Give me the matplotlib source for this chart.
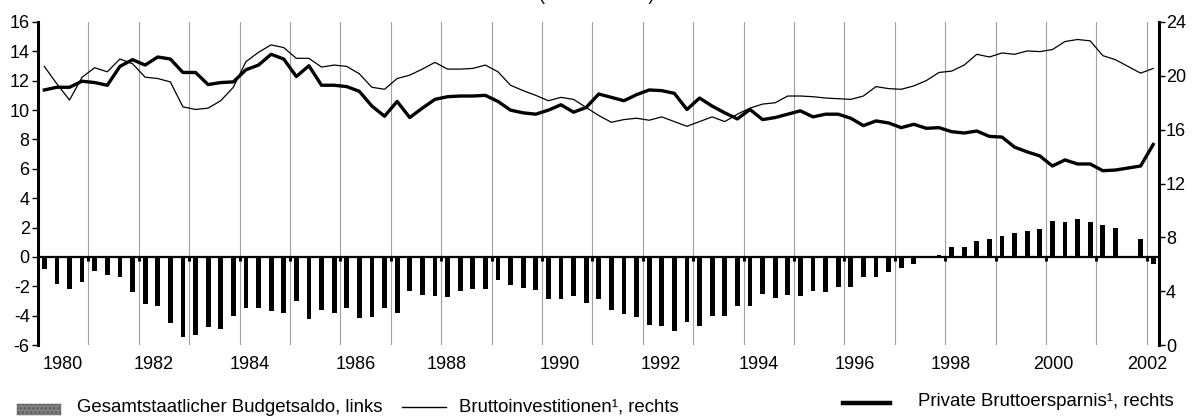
import numpy as np
import matplotlib
matplotlib.use("Agg")
import matplotlib.pyplot as plt
from matplotlib.patches import Rectangle
from matplotlib.lines import Line2D

plt.rcParams['font.family'] = ['Liberation Sans', 'DejaVu Sans']
plt.rcParams['axes.unicode_minus'] = False

# ---------------- data (quarterly, 1980Q1 .. 2002Q1) ----------------
start_year = 1980
budget = [-0.8, -1.85, -2.2, -1.7, -0.95, -1.2, -1.4, -2.4, -3.2, -3.35,
          -4.5, -5.45, -5.35, -4.8, -4.9, -4.05, -3.5, -3.5, -3.7, -3.85,
          -3.0, -4.2, -3.65, -3.8, -3.5, -4.15, -4.1, -3.5, -3.8, -2.3,
          -2.6, -2.65, -2.7, -2.3, -2.2, -2.2, -1.6, -1.9, -2.15, -2.25,
          -2.85, -2.85, -2.65, -3.15, -2.9, -3.65, -3.9, -4.1, -4.65, -4.7,
          -5.05, -4.4, -4.7, -4.05, -4.05, -3.35, -3.35, -2.55, -2.8, -2.6,
          -2.65, -2.35, -2.4, -2.05, -2.05, -1.4, -1.35, -1.05, -0.75, -0.5,
          0.0, 0.1, 0.65, 0.7, 1.1, 1.2, 1.45, 1.6, 1.75, 1.9,
          2.45, 2.4, 2.6, 2.4, 2.15, 1.95, -0.05, 1.2, -0.5]

invest = [20.7, 19.4, 18.2, 19.9, 20.6, 20.3, 21.25, 20.9, 19.9, 19.8,
          19.55, 17.7, 17.5, 17.6, 18.15, 19.15, 21.05, 21.75, 22.3, 22.1,
          21.3, 21.3, 20.65, 20.8, 20.7, 20.15, 19.15, 19.0, 19.8, 20.05,
          20.5, 21.0, 20.5, 20.5, 20.55, 20.8, 20.3, 19.3, 18.9, 18.55,
          18.15, 18.4, 18.25, 17.65, 17.05, 16.55, 16.75, 16.85, 16.7, 16.95,
          16.6, 16.25, 16.6, 16.95, 16.6, 17.15, 17.6, 17.9, 18.0, 18.5,
          18.5, 18.45, 18.35, 18.3, 18.25, 18.5, 19.2, 19.05, 19.0, 19.25,
          19.65, 20.25, 20.35, 20.8, 21.6, 21.4, 21.7, 21.6, 21.85, 21.8,
          21.95, 22.55, 22.7, 22.6, 21.5, 21.2, 20.7, 20.2, 20.55]

savings = [18.95, 19.15, 19.15, 19.6, 19.5, 19.3, 20.7, 21.2, 20.8, 21.4,
           21.25, 20.25, 20.25, 19.35, 19.5, 19.55, 20.45, 20.8, 21.6, 21.25,
           19.95, 20.75, 19.3, 19.3, 19.2, 18.85, 17.75, 17.0, 18.1, 16.9,
           17.6, 18.25, 18.45, 18.5, 18.5, 18.55, 18.1, 17.45, 17.25, 17.15,
           17.45, 17.85, 17.3, 17.65, 18.65, 18.4, 18.15, 18.6, 18.95, 18.9,
           18.7, 17.5, 18.35, 17.75, 17.25, 16.8, 17.5, 16.75, 16.9, 17.15,
           17.4, 16.95, 17.15, 17.15, 16.85, 16.3, 16.65, 16.5, 16.15, 16.4,
           16.1, 16.15, 15.85, 15.75, 15.9, 15.5, 15.45, 14.7, 14.35, 14.05,
           13.3, 13.75, 13.45, 13.45, 12.95, 13.0, 13.15, 13.3, 14.9]

year_labels = ['1980', '1982', '1984', '1986', '1988', '1990',
               '1992', '1994', '1996', '1998', '2000', '2002']
label_pos = [1980.5, 1982.3, 1984.2, 1986.3, 1988.1, 1990.35,
             1992.35, 1994.3, 1996.2, 1998.1, 2000.15, 2002.0]
grid_years = list(range(1981, 2003))

legend_labels = ['Gesamtstaatlicher Budgetsaldo, links',
                 'Bruttoinvestitionen\u00b9, rechts',
                 'Private Bruttoersparnis\u00b9, rechts']
title = '(in % des BIP)'

# ---------------- figure ----------------
W, H = 1197, 418
fig = plt.figure(figsize=(W / 100, H / 100), dpi=100)
ax = fig.add_axes([38 / W, 1 - 345 / H, (1159 - 38) / W, (345 - 22) / H])
ax2 = ax.twinx()

x = start_year + (np.arange(len(budget)) + 0.5) / 4.0

for yr in grid_years:
    ax.axvline(yr, color='#a0a0a0', lw=0.8, zorder=1)

ax.bar(x, budget, width=0.095, color='black', zorder=3)
ax.axhline(0, color='black', lw=1.6, zorder=4)
ax.vlines(grid_years, -0.28, 0, color='black', lw=2.2, zorder=4)

ax2.plot(x, invest, color='black', lw=0.9, zorder=5)
ax2.plot(x, savings, color='black', lw=2.4, zorder=6)

ax.set_xlim(1980, 2002.24)
ax.set_ylim(-6, 16)
ax.set_yticks(range(-6, 17, 2))
ax2.set_ylim(0, 24)
ax2.set_yticks(range(0, 25, 4))
ax.set_xticks(label_pos)
ax.set_xticklabels(year_labels)

for s in ['top', 'bottom', 'right']:
    ax.spines[s].set_visible(False)
for s in ['top', 'bottom', 'left']:
    ax2.spines[s].set_visible(False)
ax.spines['left'].set_linewidth(2.2)
ax2.spines['right'].set_linewidth(2.2)

ax.tick_params(axis='y', direction='out', length=4, width=1, labelsize=13, pad=2)
ax2.tick_params(axis='y', direction='out', length=4, width=1, labelsize=13, pad=1)
ax.tick_params(axis='x', length=0, labelsize=13, pad=8)

# title (clipped at the top edge as in the reference)
fig.text(0.4983, 1 + 0.5 / H, title, ha='center', va='baseline', fontsize=13)

# legend (manual, positioned like the reference)
fig.patches.append(Rectangle((17 / W, 1 - 415 / H), 44 / W, 11 / H,
                             transform=fig.transFigure, facecolor='#808080',
                             edgecolor='#555555', hatch='....', lw=0.3))
fig.text(77 / W, 1 - 407 / H, legend_labels[0], ha='left', va='center', fontsize=13.4)
fig.lines.append(Line2D([402 / W, 446 / W], [1 - 407 / H, 1 - 407 / H],
                        transform=fig.transFigure, color='black', lw=1.0))
fig.text(459 / W, 1 - 407 / H, legend_labels[1], ha='left', va='center', fontsize=13.4)
fig.lines.append(Line2D([843 / W, 890 / W], [1 - 403 / H, 1 - 403 / H],
                        transform=fig.transFigure, color='black', lw=3.2))
fig.text(918 / W, 1 - 402 / H, legend_labels[2], ha='left', va='center', fontsize=13.4)

fig.savefig('out.png', dpi=100)
